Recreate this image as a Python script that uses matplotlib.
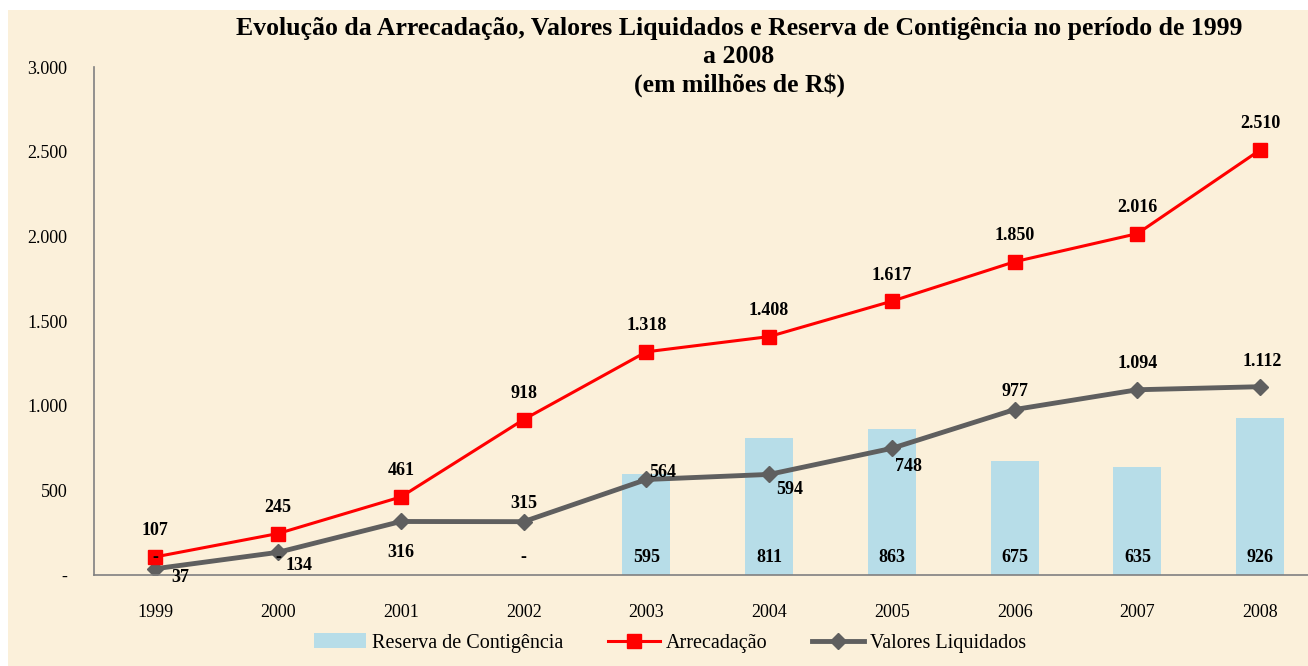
import matplotlib.pyplot as plt
import matplotlib.patches as mpatches

anos = ['1999', '2000', '2001', '2002', '2003', '2004', '2005', '2006', '2007', '2008']
reserva = [0, 0, 0, 0, 595, 811, 863, 675, 635, 926]
arrecadacao = [107, 245, 461, 918, 1318, 1408, 1617, 1850, 2016, 2510]
liquidados = [37, 134, 316, 315, 564, 594, 748, 977, 1094, 1112]
yticks = [0, 500, 1000, 1500, 2000, 2500, 3000]
ytick_labels = ['-', '500', '1.000', '1.500', '2.000', '2.500', '3.000']

# deslocamento dos rótulos da linha cinza (pixels)
off_liq = [(25, -9), (21, -13), (0, -31), (0, 18), (16, 7),
           (21, -15), (17, -18), (0, 18), (0, 26), (2, 25)]


def fmt(v):
    if v == 0:
        return '-'
    return '{:,}'.format(v).replace(',', '.')


plt.rcParams['font.family'] = ['Liberation Serif', 'DejaVu Serif']

fig = plt.figure(figsize=(13.08, 6.66), dpi=100)
fig.patches.append(mpatches.Rectangle((8 / 1308, 0), 1, 656 / 666,
                                      transform=fig.transFigure,
                                      facecolor='#fbf0da', edgecolor='none', zorder=-10))

ax = fig.add_axes([94 / 1308, 91 / 666, 1 - 94 / 1308, (575 - 67) / 666])
ax.patch.set_alpha(0)
x = list(range(len(anos)))

ax.bar(x, reserva, width=0.39, color='#b7dde8', label='Reserva de Contigência', zorder=1)
ax.plot(x, arrecadacao, color='#ff0000', lw=2.2, marker='s', ms=10,
        label='Arrecadação', zorder=3)
ax.plot(x, liquidados, color='#5f5f5f', lw=3.5, marker='D', ms=8,
        label='Valores Liquidados', zorder=2)

for i in x:
    # o "-" de 2001 fica escondido sob o rótulo 316
    if not (reserva[i] == 0 and off_liq[i][1] < -20):
        ax.annotate(fmt(reserva[i]), (i, 0), xytext=(0, 18), textcoords='offset pixels',
                    ha='center', va='center', fontsize=13, fontweight='bold', zorder=4)
    ax.annotate(fmt(arrecadacao[i]), (i, arrecadacao[i]), xytext=(0, 26),
                textcoords='offset pixels', ha='center', va='center',
                fontsize=13, fontweight='bold', zorder=4)
    ax.annotate(fmt(liquidados[i]), (i, liquidados[i]), xytext=off_liq[i],
                textcoords='offset pixels', ha='center', va='center',
                fontsize=13, fontweight='bold', zorder=4)

ax.set_xlim(-0.5, 9.39)
ax.set_ylim(0, 3000)
ax.set_xticks(x)
ax.set_xticklabels(anos, fontsize=13)
ax.set_yticks(yticks)
ax.set_yticklabels(ytick_labels, fontsize=13)
ax.tick_params(length=0)
ax.tick_params(axis='x', pad=21)
ax.tick_params(axis='y', pad=19)
for s in ['top', 'right']:
    ax.spines[s].set_visible(False)
for s in ['left', 'bottom']:
    ax.spines[s].set_color('#808080')
    ax.spines[s].set_linewidth(1.2)

fig.text(739 / 1308, 1 - 57 / 666,
         'Evolução da Arrecadação, Valores Liquidados e Reserva de Contigência no período de 1999\n'
         'a 2008\n(em milhões de R$)',
         ha='center', va='center', fontsize=18.5, fontweight='bold', linespacing=1.28)

handles, labels = ax.get_legend_handles_labels()
order = [2, 0, 1]
fig.legend([handles[k] for k in order], [labels[k] for k in order],
           loc='center', bbox_to_anchor=(670 / 1308, 23 / 666), ncol=3, frameon=False,
           fontsize=14.5, handlelength=2.6, columnspacing=2.2, handletextpad=0.3)

fig.savefig('out.png', dpi=100)
